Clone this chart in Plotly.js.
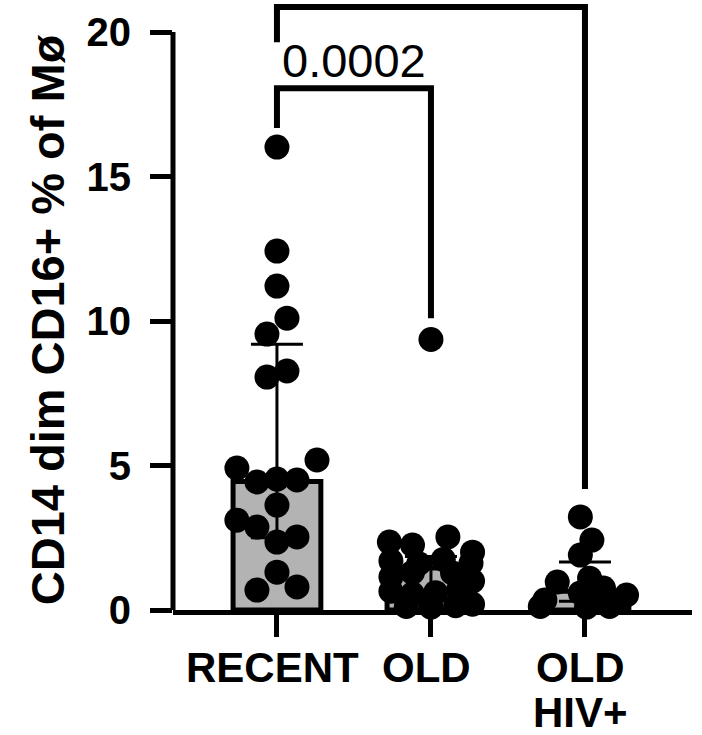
<!DOCTYPE html>
<html>
<head>
<meta charset="utf-8">
<script src="https://cdn.plot.ly/plotly-3.0.1.min.js"></script>
<style>html,body{margin:0;padding:0;background:#fff;}#chart{width:702px;height:735px;}</style>
</head>
<body>
<div id="chart"></div>
<script>
// ---- data ----
var groups = ['RECENT', 'OLD', 'OLD<br>HIV+'];
var yTicks = [0, 5, 10, 15, 20];
var yTitle = 'CD14 dim CD16+ % of Mø';

// bar = median, whiskers = interquartile range
var medianVals = [4.45, 1.45, 0.65];
var q3Vals     = [9.2, 1.85, 1.66];
var q1Vals     = [2.5, 0.55, 0.3];

// individual points (value) and horizontal jitter (fraction of category spacing)
var recentVals   = [16.02, 12.42, 11.21, 10.10, 9.55, 8.27, 8.06, 4.91, 5.19, 4.43, 4.53, 4.50, 3.63, 3.11, 2.87, 2.35, 2.53, 1.31, 0.69, 0.80];
var recentJitter = [0, 0, 0, 0.065, -0.065, 0.065, -0.065, -0.26, 0.26, -0.13, 0, 0.13, 0, -0.26, -0.13, 0, 0.13, 0, -0.13, 0.13];

var oldVals   = [9.36, 2.53, 2.35, 2.25, 2.00, 1.70, 1.60, 1.75, 1.62, 1.30, 1.28, 1.15, 1.00, 0.65, 0.55, 0.60, 0.70, 0.12, 0.10, 0.15, 0.20];
var oldJitter = [0, 0.11, -0.27, -0.12, 0.27, -0.26, -0.08, 0.08, 0.26, -0.12, 0.14, -0.26, 0.27, -0.26, -0.12, 0.03, 0.18, -0.16, 0, 0.16, 0.27];

var hivVals   = [3.22, 2.42, 1.90, 1.10, 0.97, 0.76, 0.59, 0.52, 0.35, 0.35, 0.28, 0.12, 0.10, 0.12];
var hivJitter = [-0.03, 0.045, -0.03, 0.03, -0.18, 0.12, -0.03, 0.27, -0.26, 0.05, 0.21, -0.29, 0.01, 0.16];

// significance comparisons
var compFrom   = [0, 0];
var compTo     = [2, 1];
var compTop    = [20.87, 18.06];
var compLegA   = [19.65, 16.68];
var compLegB   = [4.19, 10.1];
var compLabel  = ['', '0.0002'];
var compLabelY = [0, 19.03];

// ---- build ----
var idx = [0, 1, 2];
var yMax = 21.11;
var FONT = 'Liberation Sans, Arial, Helvetica, sans-serif';

function jit(g, vals, j) {
  return vals.map(function (v, i) { return g + j[i]; });
}
var ptX = jit(0, recentVals, recentJitter).concat(jit(1, oldVals, oldJitter), jit(2, hivVals, hivJitter));
var ptY = recentVals.concat(oldVals, hivVals);

var traces = [
  {
    type: 'bar', x: idx, y: medianVals, width: 0.57,
    marker: {color: '#b3b3b3', line: {color: '#000', width: 5}},
    error_y: {
      type: 'data', symmetric: false,
      array: medianVals.map(function (m, i) { return q3Vals[i] - m; }),
      arrayminus: medianVals.map(function (m, i) { return m - q1Vals[i]; }),
      color: '#000', thickness: 3, width: 26
    },
    hoverinfo: 'skip'
  },
  {
    type: 'scatter', mode: 'markers', x: ptX, y: ptY, cliponaxis: false,
    marker: {color: '#000', size: 25, line: {width: 0}},
    hoverinfo: 'skip'
  }
];

var shapes = [
  // y axis line, stopping at the top tick
  {type: 'line', xref: 'paper', yref: 'paper', x0: 0, x1: 0, y0: 0, y1: yTicks[yTicks.length - 1] / yMax,
   line: {color: '#000', width: 5}}
];
var annotations = [];
for (var k = 0; k < compFrom.length; k++) {
  var a = compFrom[k], b = compTo[k];
  shapes.push({
    type: 'path', xref: 'x', yref: 'y',
    path: 'M' + a + ',' + compLegA[k] + ' L' + a + ',' + compTop[k] + ' L' + b + ',' + compTop[k] + ' L' + b + ',' + compLegB[k],
    line: {color: '#000', width: 6}
  });
  if (compLabel[k]) {
    annotations.push({
      xref: 'x', yref: 'y', x: (a + b) / 2, y: compLabelY[k], text: compLabel[k], showarrow: false,
      xanchor: 'center', yanchor: 'middle',
      font: {family: FONT, size: 47, color: '#000'}
    });
  }
}

// category labels (one annotation per line for tight line spacing)
groups.forEach(function (g, gi) {
  g.split('<br>').forEach(function (line, li) {
    annotations.push({
      xref: 'x', yref: 'paper', x: idx[gi], y: 0, text: line, showarrow: false,
      xanchor: 'center', yanchor: 'top', xshift: -4, yshift: -32 - 45 * li,
      font: {family: FONT, size: 42, weight: 'bold', color: '#000'}
    });
  });
});

// y axis title
annotations.push({
  xref: 'paper', yref: 'paper', x: 0, y: 0.475, text: yTitle, showarrow: false, textangle: -90,
  xanchor: 'center', yanchor: 'middle', xshift: -126,
  font: {family: FONT, size: 47, weight: 'bold', color: '#000'}
});

var layout = {
  width: 702, height: 735,
  margin: {l: 173, r: 10, t: 0, b: 125, pad: 0},
  paper_bgcolor: '#fff', plot_bgcolor: '#fff',
  showlegend: false,
  font: {family: FONT, color: '#000'},
  xaxis: {
    range: [-0.675, 2.695], tickvals: idx, showticklabels: false,
    showline: true, linewidth: 5, linecolor: '#000',
    ticks: 'outside', ticklen: 22, tickwidth: 5, tickcolor: '#000',
    showgrid: false, zeroline: false
  },
  yaxis: {
    range: [0, yMax], tickvals: yTicks,
    showline: false,
    ticks: 'outside', ticklen: 22, tickwidth: 5, tickcolor: '#000',
    ticklabelstandoff: 11,
    showgrid: false, zeroline: false,
    tickfont: {family: FONT, size: 40, weight: 'bold', color: '#000'}
  },
  shapes: shapes,
  annotations: annotations
};

Plotly.newPlot('chart', traces, layout, {displayModeBar: false, staticPlot: true});
</script>
</body>
</html>
